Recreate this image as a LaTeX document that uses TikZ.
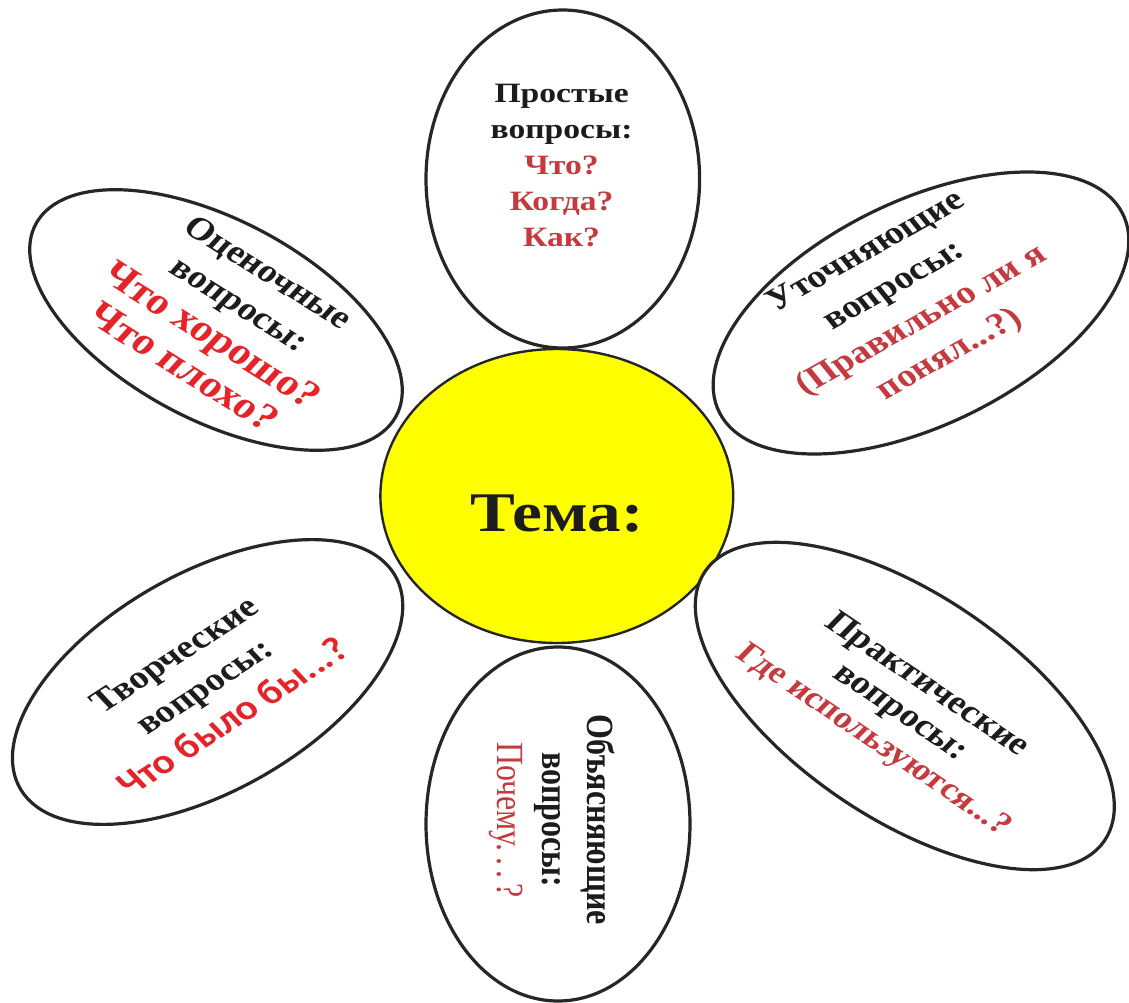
\documentclass[tikz,border=0pt]{standalone}
\usepackage{fontspec}
\setmainfont{Liberation Serif}
\newfontfamily\calibfont{Carlito}
\usetikzlibrary{shapes.geometric}
\definecolor{outline}{RGB}{38,38,38}
\definecolor{tblack}{RGB}{28,28,28}
\definecolor{tredA}{RGB}{196,58,62}
\definecolor{tredB}{RGB}{228,36,40}
\definecolor{tyellow}{RGB}{255,255,0}
\tikzset{
  petal/.style={ellipse, draw=outline, line width=2.4pt, fill=white, inner sep=0pt, outer sep=0pt},
  heart/.style={ellipse, draw=outline, line width=1.8pt, fill=tyellow, inner sep=0pt, outer sep=0pt},
  ptext/.style={align=center, text=tblack, inner sep=0pt},
}
\begin{document}
\begin{tikzpicture}[x=0.75pt,y=-0.75pt]
\useasboundingbox (0,0) rectangle (1129,1003);
\fill[white] (0,0) rectangle (1129,1003);
\begin{scope}[xscale=1.2, transform shape]
% centre
\node[heart, minimum width=220.5pt, minimum height=220.5pt] (c) at (464,496) {};
% petals
\node[petal, minimum width=171pt, minimum height=253.5pt] (ptop) at (469,179) {};
\node[petal, minimum width=165pt, minimum height=265.5pt] (pbot) at (465,824) {};
\node[petal, minimum width=268.5pt, minimum height=142.5pt, rotate=-36] (pul) at (180,320) {};
\node[petal, minimum width=294pt, minimum height=160.5pt, rotate=34] (pur) at (767.5,313) {};
\node[petal, minimum width=285pt, minimum height=154.5pt, rotate=38] (pll) at (173,682) {};
\node[petal, minimum width=322.5pt, minimum height=157.5pt, rotate=-42] (plr) at (754,706) {};
% texts
\node[ptext, font=\bfseries\fontsize{42}{48}\selectfont] (tc) at (464,514) {Тема:};
\node[ptext, font=\bfseries\fontsize{21}{27}\selectfont] (ttop) at (468,166)
  {Простые\\вопросы:\\\textcolor{tredA}{Что?}\\\textcolor{tredA}{Когда?}\\\textcolor{tredA}{Как?}};
\node[ptext, font=\bfseries\fontsize{24}{30}\selectfont, rotate=-37] (tul) at (188,320)
  {Оценочные\\вопросы:\\\textcolor{tredB}{\fontsize{28}{30}\selectfont Что хорошо?}\\\textcolor{tredB}{\fontsize{28}{30}\selectfont Что плохо?}};
\node[ptext, font=\bfseries\fontsize{24}{31}\selectfont, rotate=34] (tur) at (757,304)
  {Уточняющие\\вопросы:\\\textcolor{tredA}{(Правильно ли я}\\\textcolor{tredA}{понял...?)}};
\node[ptext, font=\bfseries\fontsize{24}{30}\selectfont, rotate=38] (tll) at (170,686)
  {Творческие\\вопросы:\\\textcolor{tredB}{\calibfont\fontsize{26}{30}\selectfont Что было бы...?}};
\node[ptext, font=\bfseries\fontsize{24}{26.5}\selectfont, rotate=-39] (tlr) at (750,713)
  {Практические\\вопросы:\\\textcolor{tredA}{\fontsize{23}{26.5}\selectfont Где используются...?}};
\node[ptext, font=\bfseries\fontsize{24}{28}\selectfont, rotate=-90] (tbot) at (460,820)
  {Объясняющие\\вопросы:\\\textcolor{tredA}{\mdseries Почему.\,.\,.\,?}};
\end{scope}
\end{tikzpicture}
\end{document}
